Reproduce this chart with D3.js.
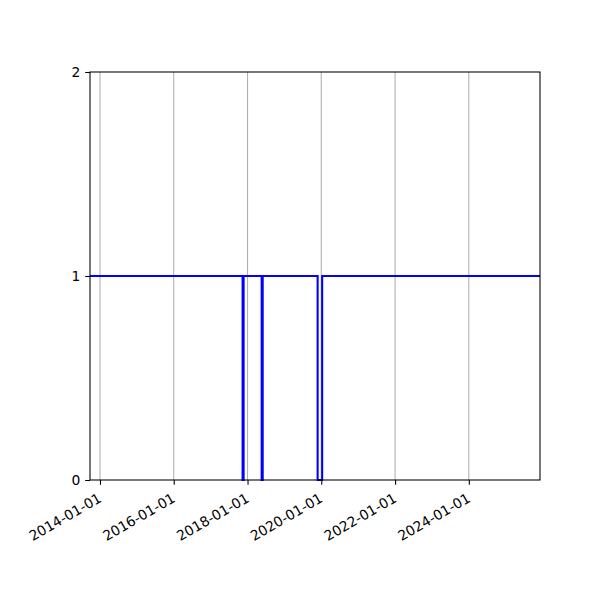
<!DOCTYPE html>
<html>
<head>
<meta charset="utf-8">
<script src="https://cdn.jsdelivr.net/npm/d3@7"></script>
<style>
  body { margin: 0; background: #fff; }
  text { font-family: "DejaVu Sans", sans-serif; font-size: 13.89px; fill: #000; }
</style>
</head>
<body>
<svg id="chart" width="600" height="600"></svg>
<script>
// step series: value holds from each date until the next one
const stepDates = ['2013-09-24', '2017-11-13', '2017-11-23', '2018-05-21', '2018-05-31', '2019-11-26', '2020-01-10', '2025-12-06'];
const stepValues = [1, 0, 1, 0, 1, 0, 1, 1];
const xTickDates = ['2014-01-01', '2016-01-01', '2018-01-01', '2020-01-01', '2022-01-01', '2024-01-01'];
const yTicks = [0, 1, 2];

const parse = d3.utcParse('%Y-%m-%d');
const fmt = d3.utcFormat('%Y-%m-%d');

const margin = { top: 72, right: 60, bottom: 120, left: 90 };
const width = 600 - margin.left - margin.right;
const height = 600 - margin.top - margin.bottom;

const points = stepDates.map((d, i) => ({ date: parse(d), value: stepValues[i] }));

const svg = d3.select('#chart');
const g = svg.append('g').attr('transform', `translate(${margin.left},${margin.top})`);

const x = d3.scaleUtc()
  .domain(d3.extent(points, d => d.date))
  .range([0, width]);

const y = d3.scaleLinear()
  .domain([0, 2])
  .range([height, 0]);

// vertical grid
g.selectAll('.grid')
  .data(xTickDates.map(parse))
  .enter()
  .append('line')
  .attr('class', 'grid')
  .attr('x1', d => x(d))
  .attr('x2', d => x(d))
  .attr('y1', 0)
  .attr('y2', height)
  .attr('stroke', '#b0b0b0')
  .attr('stroke-width', 1.07);

const line = d3.line()
  .x(d => x(d.date))
  .y(d => y(d.value))
  .curve(d3.curveStepAfter);

g.append('path')
  .datum(points)
  .attr('d', line)
  .attr('fill', 'none')
  .attr('stroke', '#0000ff')
  .attr('stroke-width', 2.08)
  .attr('stroke-linejoin', 'miter');

// frame
g.append('rect')
  .attr('width', width)
  .attr('height', height)
  .attr('fill', 'none')
  .attr('stroke', '#000')
  .attr('stroke-width', 1.07);

const xAxis = g.append('g')
  .attr('transform', `translate(0,${height})`)
  .call(d3.axisBottom(x).tickValues(xTickDates.map(parse)).tickFormat(fmt).tickSize(4.86));
xAxis.select('.domain').remove();
xAxis.selectAll('line').attr('stroke', '#000').attr('stroke-width', 1.07);
// rotated labels, right end hanging just under the tick
xAxis.selectAll('text')
  .attr('font-family', 'DejaVu Sans')
  .attr('font-size', 13.89)
  .attr('text-anchor', 'end')
  .attr('x', 0)
  .attr('y', 0)
  .attr('dy', 0)
  .attr('transform', 'translate(2,21) rotate(-30)');

const yAxis = g.append('g')
  .call(d3.axisLeft(y).tickValues(yTicks).tickFormat(d3.format('d')).tickSize(4.86).tickPadding(4.86));
yAxis.select('.domain').remove();
yAxis.selectAll('line').attr('stroke', '#000').attr('stroke-width', 1.07);
yAxis.selectAll('text').attr('font-family', 'DejaVu Sans').attr('font-size', 13.89);
</script>
</body>
</html>
